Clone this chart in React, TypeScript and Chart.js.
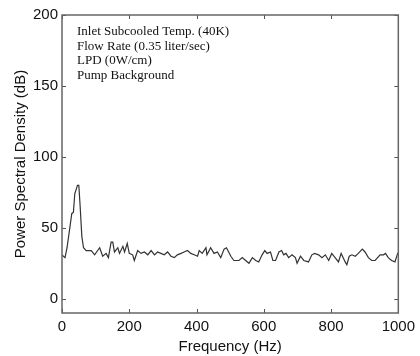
import React, { useEffect, useRef } from "react";
import { Chart, registerables } from "chart.js";

Chart.register(...registerables);

const freqHz = [
  0, 9, 15, 25, 29, 34, 38, 46, 50, 54, 59, 64, 72, 87, 97, 112, 121, 131, 138, 146,
  151, 156, 166, 171, 181, 186, 194, 200, 210, 215, 225, 235, 245, 255, 265, 275, 284, 294,
  304, 314, 324, 334, 343, 354, 363, 373, 383, 393, 403, 408, 417, 428, 431, 442, 452, 462,
  472, 482, 489, 502, 511, 526, 536, 546, 556, 566, 576, 585, 595, 603, 610, 620, 627, 635,
  645, 653, 659, 666, 674, 684, 694, 699, 709, 719, 733, 743, 751, 763, 773, 783, 793, 802,
  812, 822, 830, 842, 847, 854, 862, 872, 881, 893, 901, 911, 921, 931, 946, 956, 962, 970,
  980, 990, 998, 1000,
];
const psdDb = [
  31, 29, 36, 53, 60, 61, 74, 80, 80, 65, 44, 36, 34, 34, 31, 36, 30, 32, 29, 40,
  40, 33, 36, 32, 37, 33, 39, 32, 31, 27, 34, 32, 33, 31, 34, 31, 33, 32,
  31, 33, 30, 29, 31, 32, 33, 34, 32, 31, 30, 34, 32, 36, 31, 36, 32, 33,
  29, 35, 36, 30, 27, 27, 29, 27, 25, 29, 27, 26, 31, 34, 32, 33, 27, 27,
  33, 34, 31, 32, 29, 31, 29, 25, 30, 27, 26, 31, 32, 31, 29, 31, 27, 32,
  29, 26, 32, 26, 24, 30, 31, 30, 32, 35, 33, 29, 27, 27, 31, 31, 32, 29,
  27, 26, 32, 32,
];
const xTicks = [0, 200, 400, 600, 800, 1000];
const yTicks = [0, 50, 100, 150, 200];
const noteLines = [
  "Inlet Subcooled Temp. (40K)",
  "Flow Rate (0.35 liter/sec)",
  "LPD (0W/cm)",
  "Pump Background",
];

const innerTicks = {
  id: "innerTicks",
  afterDraw(chart: any) {
    const { ctx, chartArea: a, scales } = chart;
    ctx.save();
    ctx.strokeStyle = "#555";
    ctx.lineWidth = 1;
    ctx.beginPath();
    xTicks.forEach((v) => {
      const px = Math.round(scales.x.getPixelForValue(v)) + 0.5;
      ctx.moveTo(px, a.bottom);
      ctx.lineTo(px, a.bottom - 4);
      ctx.moveTo(px, a.top);
      ctx.lineTo(px, a.top + 4);
    });
    yTicks.forEach((v) => {
      const py = Math.round(scales.y.getPixelForValue(v)) + 0.5;
      ctx.moveTo(a.left, py);
      ctx.lineTo(a.left + 4, py);
      ctx.moveTo(a.right, py);
      ctx.lineTo(a.right - 4, py);
    });
    ctx.stroke();
    ctx.strokeStyle = "#666";
    ctx.lineWidth = 1.5;
    ctx.strokeRect(a.left, a.top, a.right - a.left, a.bottom - a.top);
    ctx.fillStyle = "#111";
    ctx.font = '13px "Liberation Serif", "Times New Roman", serif';
    ctx.textBaseline = "middle";
    ctx.textAlign = "left";
    noteLines.forEach((t, i) => {
      ctx.fillText(t, a.left + 15, a.top + 17 + i * 14.4);
    });
    ctx.restore();
  },
};

export default function App() {
  const ref = useRef<HTMLCanvasElement>(null);
  useEffect(() => {
    if (!ref.current) return;
    const data = freqHz.map((f, i) => ({ x: f, y: psdDb[i] }));
    const chart = new Chart(ref.current, {
      type: "line",
      data: {
        datasets: [
          {
            data,
            borderColor: "#333",
            borderWidth: 1.2,
            pointRadius: 0,
            tension: 0,
            fill: false,
          },
        ],
      },
      options: {
        responsive: false,
        animation: false,
        layout: { padding: { top: 15, right: 20, left: 0, bottom: 0 } },
        plugins: { legend: { display: false }, tooltip: { enabled: false } },
        scales: {
          x: {
            type: "linear",
            min: 0,
            max: 1000,
            afterBuildTicks: (s: any) => {
              s.ticks = xTicks.map((v) => ({ value: v }));
            },
            afterFit: (s: any) => {
              s.height = 43;
            },
            grid: { display: false, drawTicks: false },
            border: { display: false },
            ticks: {
              color: "#111",
              padding: 5,
              maxRotation: 0,
              callback: (v: any) => String(v),
              font: { family: '"Liberation Sans", Arial, sans-serif', size: 15 },
            },
            title: {
              display: true,
              text: "Frequency (Hz)",
              color: "#111",
              padding: { top: 0, bottom: 0 },
              font: { family: '"Liberation Sans", Arial, sans-serif', size: 15 },
            },
          },
          y: {
            type: "linear",
            min: -10,
            max: 200,
            afterBuildTicks: (s: any) => {
              s.ticks = yTicks.map((v) => ({ value: v }));
            },
            afterFit: (s: any) => {
              s.width = 62;
            },
            grid: { display: false, drawTicks: false },
            border: { display: false },
            ticks: {
              color: "#111",
              padding: 4,
              callback: (v: any) => String(v),
              font: { family: '"Liberation Sans", Arial, sans-serif', size: 15 },
            },
            title: {
              display: true,
              text: "Power Spectral Density (dB)",
              color: "#111",
              padding: { top: 12, bottom: 0 },
              font: { family: '"Liberation Sans", Arial, sans-serif', size: 15 },
            },
          },
        },
      },
      plugins: [innerTicks],
    });
    return () => chart.destroy();
  }, []);
  return (
    <div style={{ position: "fixed", left: 0, top: 0, width: 420, height: 356, background: "#fff" }}>
      <canvas ref={ref} width={420} height={356} />
    </div>
  );
}
